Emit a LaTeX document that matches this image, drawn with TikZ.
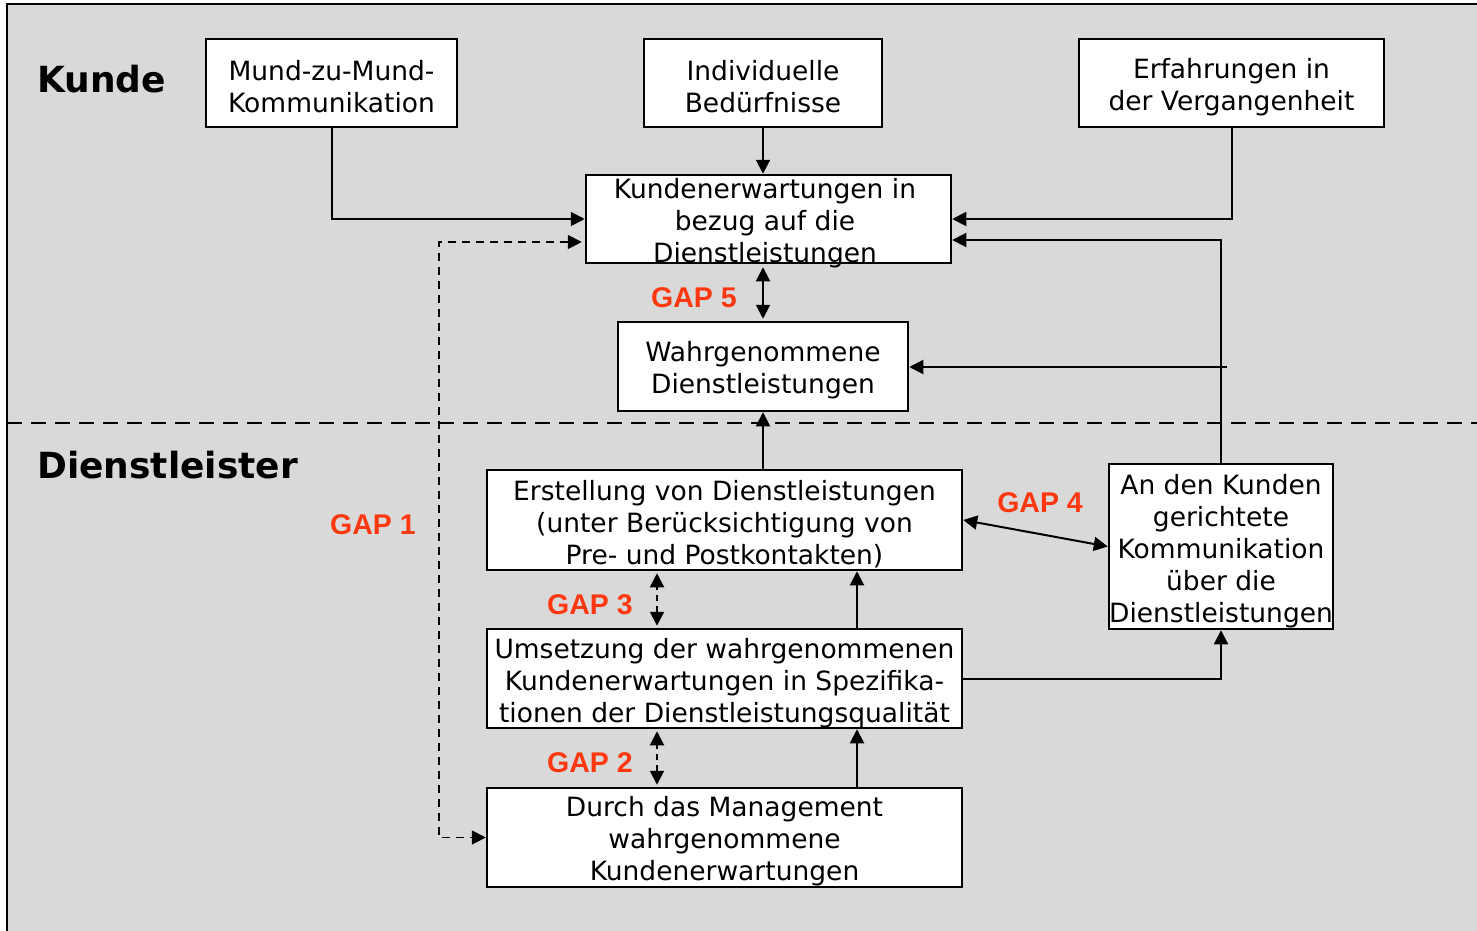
\documentclass[tikz,border=0pt]{standalone}
\usepackage{fontspec}
\setmainfont{DejaVu Sans}
\newfontfamily\gapfont{Liberation Sans}
\usetikzlibrary{arrows.meta,calc}
\definecolor{bg}{RGB}{217,217,217}
\definecolor{gapred}{RGB}{255,56,16}
\tikzset{
  x=1pt, y=-1pt,
  box/.style={draw=black, fill=white, line width=2.5pt, inner sep=0pt, rectangle},
  txt/.style={align=center, inner sep=0pt, font=\fontsize{26.5}{32}\selectfont},
  lab/.style={anchor=west, inner sep=0pt, font=\fontsize{36}{40}\selectfont\bfseries},
  gap/.style={inner sep=0pt, text=gapred, font=\gapfont\fontsize{28.5}{32}\selectfont\bfseries},
  conn/.style={line width=2pt, -{Triangle[length=14pt,width=14pt]}},
  dconn/.style={line width=2pt, {Triangle[length=14pt,width=14pt]}-{Triangle[length=14pt,width=14pt]}},
  dashconn/.style={line width=2pt, dash pattern=on 6pt off 5pt, {Triangle[length=14pt,width=14pt]}-{Triangle[length=14pt,width=14pt]}},
  gaponeconn/.style={line width=1.8pt, dash pattern=on 8pt off 6pt, {Triangle[length=14pt,width=14pt]}-{Triangle[length=14pt,width=14pt]}},
}
\begin{document}
\begin{tikzpicture}
\path[use as bounding box] (0,0) rectangle (1477,931);
\fill[bg] (7,4) rectangle (1477,931);
\draw[line width=2.5pt] (1477,4) -- (7,4) -- (7,931);
\draw[line width=2.2pt, dash pattern=on 15pt off 9pt] (7,423) -- (1477,423);

% labels
\node[lab] (kunde) at (37,79) {Kunde};
\node[lab] (dienst) at (37,465) {Dienstleister};

% boxes
\node[box, minimum width=251pt, minimum height=88pt] (A) at (331.5,83) {};
\node[txt] (At) at (331.5,87) {Mund-zu-Mund-\\Kommunikation};
\node[box, minimum width=238pt, minimum height=88pt] (B) at (763,83) {};
\node[txt] (Bt) at (763,87) {Individuelle\\Bedürfnisse};
\node[box, minimum width=305pt, minimum height=88pt] (C) at (1231.5,83) {};
\node[txt] (Ct) at (1231.5,87) {Erfahrungen in\\der Vergangenheit};
\node[box, minimum width=365pt, minimum height=88pt] (D) at (768.5,219) {};
\node[txt] (Dt) at (765,223) {Kundenerwartungen in\\bezug auf die\\Dienstleistungen};
\node[box, minimum width=290pt, minimum height=89pt] (E) at (763,366.5) {};
\node[txt] (Et) at (763,370) {Wahrgenommene\\Dienstleistungen};
\node[box, minimum width=475pt, minimum height=100pt] (F) at (724.5,520) {};
\node[txt] (Ft) at (724.5,524) {Erstellung von Dienstleistungen\\(unter Berücksichtigung von\\Pre- und Postkontakten)};
\node[box, minimum width=224pt, minimum height=165pt] (G) at (1221,546.5) {};
\node[txt] (Gt) at (1221,551) {An den Kunden\\gerichtete\\Kommunikation\\über die\\Dienstleistungen};
\node[box, minimum width=475pt, minimum height=99pt] (H) at (724.5,678.5) {};
\node[txt] (Ht) at (724.5,683) {Umsetzung der wahrgenommenen\\Kundenerwartungen in Spezifika-\\tionen der Dienstleistungsqualität};
\node[box, minimum width=475pt, minimum height=99pt] (I) at (724.5,837.5) {};
\node[txt] (It) at (724.5,841) {Durch das Management\\wahrgenommene\\Kundenerwartungen};

% connectors
\draw[conn] (A.south) |- (D.west);
\draw[conn] (B.south) -- (B.south |- D.north);
\draw[conn] (C.south) |- (D.east);
\draw[conn] (G.north) |- ([yshift=-21pt]D.east);
\coordinate (Ein) at (1227,367);
\draw[conn] (Ein) -- (E.east |- Ein);
\draw[dconn] ([yshift=-3pt]E.north |- D.south) -- ([yshift=2pt]E.north);
\draw[conn] (E.south |- F.north) -- (E.south);
\draw[dconn] (F.east) -- (G.west);
\draw[dashconn] ([xshift=-67.5pt,yshift=2pt]H.north) -- ([xshift=-67.5pt,yshift=-2pt]F.south);
\draw[conn] ([xshift=132.5pt]H.north) -- ([xshift=132.5pt]F.south);
\draw[conn] (H.east) -| (G.south);
\draw[dashconn] ([xshift=-67.5pt,yshift=2pt]I.north) -- ([xshift=-67.5pt,yshift=-2pt]H.south);
\draw[conn] ([xshift=132.5pt]I.north) -- ([xshift=132.5pt]H.south);
\coordinate (G1) at (439,500);
\draw[gaponeconn] ([xshift=-3pt,yshift=-23pt]D.west) -| (G1) |- (I.west);

% gap labels
\node[gap] (gap5) at (694,298) {GAP 5};
\node[gap] (gap1) at (373,525) {GAP 1};
\node[gap] (gap4) at (1040,503) {GAP 4};
\node[gap] (gap3) at (590,605) {GAP 3};
\node[gap] (gap2) at (590,763) {GAP 2};
\end{tikzpicture}
\end{document}
